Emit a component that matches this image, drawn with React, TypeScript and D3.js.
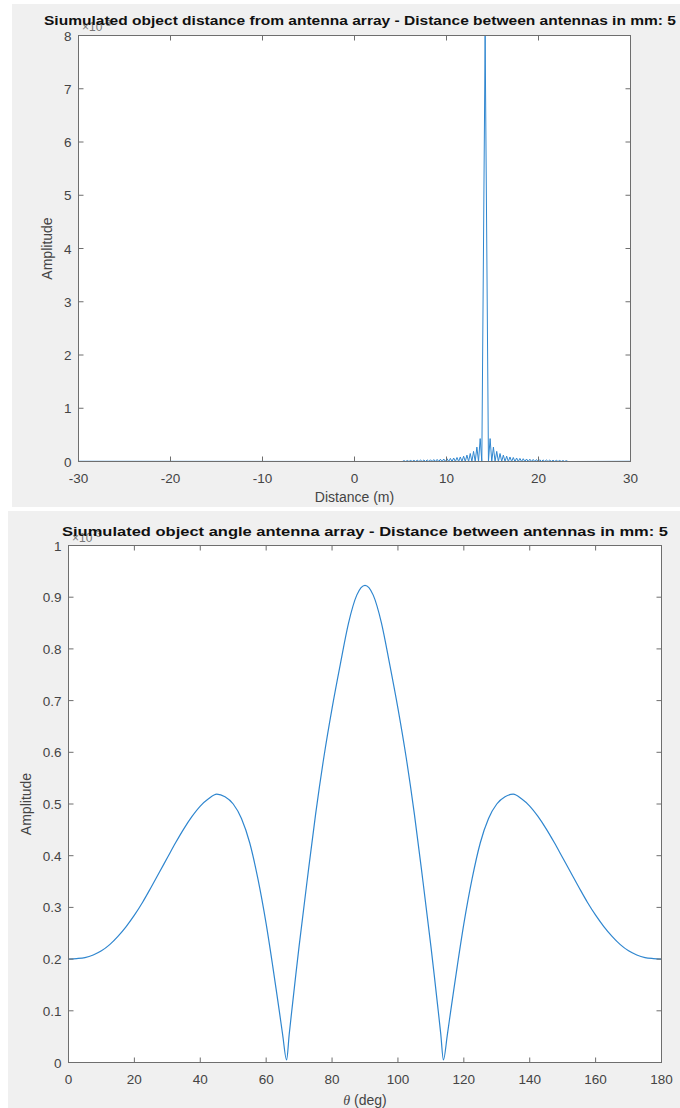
import React from "react";
import * as d3 from "d3";

// ---------- Top chart data: distance spectrum ----------
const topTitle = "Siumulated object distance from antenna array - Distance between antennas in mm: 5";
const topXTicks = [-30, -20, -10, 0, 10, 20, 30];
const topYTicks = [0, 1, 2, 3, 4, 5, 6, 7, 8];
const distance = [
  -30,
  5.2, 5.38, 5.56, 5.74, 5.92, 6.1, 6.28, 6.46, 6.64, 6.82, 7.0, 7.18, 7.36, 7.54, 7.72, 7.9,
  8.08, 8.26, 8.44, 8.62, 8.8, 8.98, 9.16, 9.34, 9.52, 9.7, 9.88, 10.06, 10.24, 10.42, 10.6,
  10.78, 10.96, 11.14, 11.32, 11.5, 11.68, 11.86, 12.04, 12.22, 12.4, 12.58, 12.76, 12.94,
  13.12, 13.3, 13.48, 13.66, 13.84,
  14.2,
  14.56, 14.74, 14.92, 15.1, 15.28, 15.46, 15.64, 15.82, 16.0, 16.18, 16.36, 16.54, 16.72,
  16.9, 17.08, 17.26, 17.44, 17.62, 17.8, 17.98, 18.16, 18.34, 18.52, 18.7, 18.88, 19.06,
  19.24, 19.42, 19.6, 19.78, 19.96, 20.14, 20.32, 20.5, 20.68, 20.86, 21.04, 21.22, 21.4,
  21.58, 21.76, 21.94, 22.12, 22.3, 22.48, 22.66, 22.84, 23.02, 23.2,
  30,
];
const amplitudeMilli = [
  0.004,
  0, 0.016, 0, 0.018, 0, 0.02, 0, 0.022, 0, 0.024, 0, 0.026, 0, 0.028, 0, 0.03,
  0, 0.033, 0, 0.036, 0, 0.039, 0, 0.043, 0, 0.047, 0, 0.052, 0, 0.058, 0,
  0.066, 0, 0.075, 0, 0.085, 0, 0.1, 0, 0.12, 0, 0.15, 0, 0.19,
  0, 0.27, 0, 0.43, 0,
  7.99,
  0, 0.43, 0, 0.27, 0, 0.19, 0, 0.15, 0, 0.12, 0, 0.1, 0,
  0.085, 0, 0.075, 0, 0.066, 0, 0.058, 0, 0.052, 0, 0.047, 0, 0.043,
  0, 0.039, 0, 0.036, 0, 0.033, 0, 0.03, 0, 0.028, 0, 0.026, 0,
  0.024, 0, 0.022, 0, 0.02, 0, 0.018, 0, 0.016, 0,
  0.004,
];

// ---------- Bottom chart data: angle pattern ----------
const bottomTitle = "Siumulated object angle antenna array - Distance between antennas in mm: 5";
const bottomXTicks = [0, 20, 40, 60, 80, 100, 120, 140, 160, 180];
const bottomYTicks = [0, 0.1, 0.2, 0.3, 0.4, 0.5, 0.6, 0.7, 0.8, 0.9, 1];
const theta = [
  0, 2.5, 5, 7.5, 10, 12.5, 15, 17.5, 20, 22.5, 25, 27.5, 30, 32.5, 35, 37.5, 40, 42.5, 45,
  47.5, 50, 52.5, 55, 57.5, 60, 62, 63, 64, 65, 66.2, 67, 68, 69, 70, 72.5, 75, 77.5, 80,
  82.5, 85, 87.5, 90,
  92.5, 95, 97.5, 100, 102.5, 105, 107.5, 110, 111, 112, 113, 113.8, 115, 116, 117, 118,
  120, 122.5, 125, 127.5, 130, 132.5, 135, 137.5, 140, 142.5, 145, 147.5, 150, 152.5,
  155, 157.5, 160, 162.5, 165, 167.5, 170, 172.5, 175, 177.5, 180,
];
const angleAmp = [
  0.2, 0.201, 0.203, 0.208, 0.216, 0.228, 0.244, 0.263, 0.285, 0.31, 0.338, 0.367, 0.396,
  0.425, 0.452, 0.476, 0.496, 0.51, 0.519,
  0.514, 0.5, 0.472, 0.425, 0.355, 0.268, 0.186, 0.143, 0.099, 0.054, 0.005, 0.055, 0.113,
  0.17, 0.225, 0.355, 0.48, 0.59, 0.685, 0.77, 0.85, 0.904, 0.923,
  0.904, 0.85, 0.77, 0.685, 0.59, 0.48, 0.355, 0.225, 0.17, 0.113, 0.055, 0.005, 0.054, 0.099,
  0.143, 0.186, 0.268, 0.355, 0.425, 0.472, 0.5, 0.514, 0.519, 0.51, 0.496, 0.476, 0.452,
  0.425, 0.396, 0.367, 0.338, 0.31, 0.285, 0.263, 0.244, 0.228, 0.216, 0.208, 0.203, 0.201, 0.2,
];

const LINE = "#2f86cf";
const AXIS = "#6e6e6e";
const TXT = "#444444";
const FONT = "'Liberation Sans', Arial, Helvetica, sans-serif";

type PlotProps = {
  bg: { x: number; y: number; w: number; h: number };
  box: { l: number; r: number; t: number; b: number };
  xDomain: [number, number];
  yDomain: [number, number];
  xTicks: number[];
  yTicks: number[];
  xs: number[];
  ys: number[];
  title: string;
  titleX: number;
  titleY: number;
  titleLen: number;
  xLabel: React.ReactNode;
  xLabelY: number;
  yLabelX: number;
  yTickFmt: (v: number) => string;
  expX: number;
  expY: number;
  smooth: boolean;
  lineWidth: number;
};

function Plot(p: PlotProps) {
  const x = d3.scaleLinear().domain(p.xDomain).range([p.box.l, p.box.r]);
  const y = d3.scaleLinear().domain(p.yDomain).range([p.box.b, p.box.t]);
  const pts: [number, number][] = p.xs.map((v, i) => [v, p.ys[i]]);
  const line = d3
    .line<[number, number]>()
    .x((d) => x(d[0]))
    .y((d) => y(d[1]))
    .curve(p.smooth ? d3.curveMonotoneX : d3.curveLinear);
  const tl = 5;
  const clipId = "clip" + Math.round(p.box.t);
  return (
    <g>
      <rect x={p.bg.x} y={p.bg.y} width={p.bg.w} height={p.bg.h} fill="#f0f0f0" />
      <rect x={p.box.l} y={p.box.t} width={p.box.r - p.box.l} height={p.box.b - p.box.t} fill="#ffffff" />
      <defs>
        <clipPath id={clipId}>
          <rect x={p.box.l} y={p.box.t - 1} width={p.box.r - p.box.l} height={p.box.b - p.box.t + 2} />
        </clipPath>
      </defs>
      <path d={line(pts) || ""} fill="none" stroke={LINE} strokeWidth={p.lineWidth} clipPath={`url(#${clipId})`} />
      {p.xTicks.map((t) => (
        <g key={"xt" + t}>
          <line x1={x(t)} x2={x(t)} y1={p.box.b} y2={p.box.b - tl} stroke={AXIS} strokeWidth={1} />
          <line x1={x(t)} x2={x(t)} y1={p.box.t} y2={p.box.t + tl} stroke={AXIS} strokeWidth={1} />
          <text x={x(t)} y={p.box.b + 21} textAnchor="middle" fontSize={13.5} fill={TXT} fontFamily={FONT}>
            {t}
          </text>
        </g>
      ))}
      {p.yTicks.map((t) => (
        <g key={"yt" + t}>
          <line x1={p.box.l} x2={p.box.l + tl} y1={y(t)} y2={y(t)} stroke={AXIS} strokeWidth={1} />
          <line x1={p.box.r} x2={p.box.r - tl} y1={y(t)} y2={y(t)} stroke={AXIS} strokeWidth={1} />
          <text x={p.box.l - 7} y={y(t) + 5} textAnchor="end" fontSize={13.5} fill={TXT} fontFamily={FONT}>
            {p.yTickFmt(t)}
          </text>
        </g>
      ))}
      <rect
        x={p.box.l}
        y={p.box.t}
        width={p.box.r - p.box.l}
        height={p.box.b - p.box.t}
        fill="none"
        stroke={AXIS}
        strokeWidth={1}
      />
      {/* exponent label, partly covered by the title as in the source */}
      <text x={p.expX} y={p.expY} fontSize={12} fill="#777" fontFamily={FONT}>
        ×10
      </text>
      <text x={p.expX + 21} y={p.expY - 5} fontSize={9} fill="#777" fontFamily={FONT}>
        -3
      </text>
      <text
        x={p.titleX}
        y={p.titleY}
        textAnchor="middle"
        fontSize={13.5}
        fontWeight="bold"
        fill="#111"
        fontFamily={FONT}
        textLength={p.titleLen}
        lengthAdjust="spacingAndGlyphs"
      >
        {p.title}
      </text>
      <text
        x={(p.box.l + p.box.r) / 2}
        y={p.xLabelY}
        textAnchor="middle"
        fontSize={14}
        fill={TXT}
        fontFamily={FONT}
      >
        {p.xLabel}
      </text>
      <text
        transform={`translate(${p.yLabelX},${(p.box.t + p.box.b) / 2}) rotate(-90)`}
        textAnchor="middle"
        fontSize={14}
        fill={TXT}
        fontFamily={FONT}
      >
        Amplitude
      </text>
    </g>
  );
}

export default function App() {
  return (
    <svg
      width={680}
      height={1108}
      viewBox="0 0 680 1108"
      style={{ position: "absolute", left: 0, top: 0, display: "block", background: "#ffffff" }}
    >
      <Plot
        bg={{ x: 12, y: 4, w: 668, h: 503 }}
        box={{ l: 78.5, r: 630.5, t: 35.5, b: 461.5 }}
        xDomain={[-30, 30]}
        yDomain={[0, 8]}
        xTicks={topXTicks}
        yTicks={topYTicks}
        xs={distance}
        ys={amplitudeMilli}
        title={topTitle}
        titleX={360}
        titleY={25}
        titleLen={632}
        xLabel="Distance (m)"
        xLabelY={502}
        yLabelX={52}
        yTickFmt={(v) => String(v)}
        expX={82}
        expY={31}
        smooth={false}
        lineWidth={1}
      />
      <Plot
        bg={{ x: 8, y: 511, w: 672, h: 597 }}
        box={{ l: 68.5, r: 661.5, t: 545.5, b: 1062.5 }}
        xDomain={[0, 180]}
        yDomain={[0, 1]}
        xTicks={bottomXTicks}
        yTicks={bottomYTicks}
        xs={theta}
        ys={angleAmp}
        title={bottomTitle}
        titleX={365}
        titleY={536}
        titleLen={606}
        xLabel={
          <>
            <tspan fontStyle="italic" fontFamily="'Liberation Serif', 'Times New Roman', serif">θ</tspan>
            <tspan> (deg)</tspan>
          </>
        }
        xLabelY={1105}
        yLabelX={31}
        yTickFmt={(v) => (v === 0 || v === 1 ? String(v) : d3.format(".1f")(v))}
        expX={72}
        expY={542}
        smooth={true}
        lineWidth={1.2}
      />
    </svg>
  );
}
